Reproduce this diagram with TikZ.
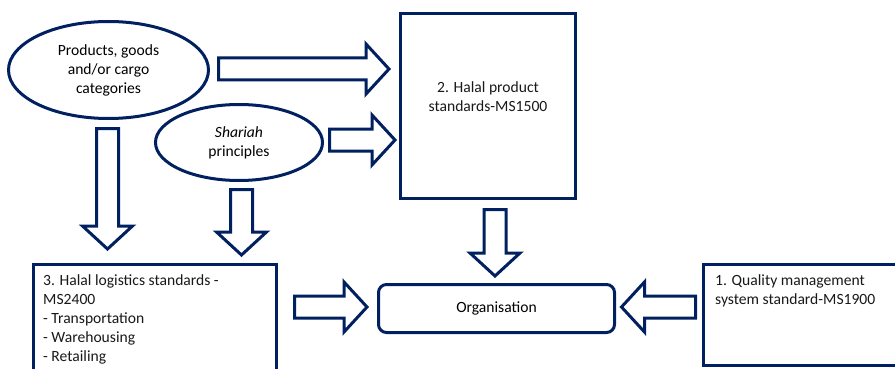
\documentclass[tikz,border=0pt]{standalone}
\usepackage{fontspec}
\setmainfont{Carlito}
\usetikzlibrary{calc,shapes.geometric}
\definecolor{navy}{HTML}{002060}

\newcommand{\shafthw}{11pt}
\newcommand{\headhw}{25pt}
\newcommand{\headlen}{23pt}
\newcommand{\blockarrow}[2]{%
  \coordinate (#1_#2) at ($(#2)!\headlen!(#1)$);
  \draw[hollowarrow] ($(#1)!\shafthw!90:(#2)$) -- ($(#1_#2)!\shafthw!90:(#2)$)
    -- ($(#1_#2)!\headhw!90:(#2)$) -- (#2) -- ($(#1_#2)!\headhw!-90:(#2)$)
    -- ($(#1_#2)!\shafthw!-90:(#2)$) -- ($(#1)!\shafthw!-90:(#2)$) -- cycle;}

\begin{document}
\begin{tikzpicture}[x=1pt,y=-1pt]
\tikzset{
  ovalnode/.style={ellipse,draw=navy,line width=3pt,fill=white,align=center,inner sep=0pt},
  boxnode/.style={rectangle,draw=navy,line width=3pt,fill=white,inner sep=0pt},
  orgnode/.style={boxnode,rounded corners=8pt},
  textnode/.style={inner sep=0pt,text=black!90},
  hollowarrow/.style={draw=navy,line width=3pt,fill=white,line join=miter}
}
\useasboundingbox (0,0) rectangle (895,369);
\fontsize{15.6}{19}\selectfont
\node[ovalnode,minimum width=200,minimum height=97] (n_prod) at (108.5,70) {Products, goods\\and/or cargo\\categories};
\node[ovalnode,minimum width=167,minimum height=76] (n_shariah) at (239,142.5) {\textit{Shariah}\\principles};
\node[boxnode,minimum width=175,minimum height=185] (n_hps) at (488,106) {};
\node[textnode,align=center] (n_hpsText) at (488,96.5) {2. Halal product\\standards-MS1500};
\node[orgnode,minimum width=236,minimum height=48] (n_org) at (496.5,308.5) {Organisation};
\node[boxnode,minimum width=226.5,minimum height=101] (n_qms) at (816.75,315) {};
\node[textnode,align=left,anchor=north west] (n_qmsText) at (715,274) {1. Quality management\\system standard-MS1900};
\node[boxnode,minimum width=243,minimum height=125.5] (n_log) at (155,327.25) {};
\node[textnode,align=left,anchor=north west] (n_logText) at (43,274) {3. Halal logistics standards -\\MS2400\\- Transportation\\- Warehousing\\- Retailing};
\coordinate (c_A0) at (218.5,69);
\coordinate (c_A1) at (389,69);
\coordinate (c_B0) at (329.5,140);
\coordinate (c_B1) at (395,140);
\coordinate (c_C0) at (107.5,128.5);
\coordinate (c_C1) at (107.5,249);
\coordinate (c_D0) at (241.5,189.5);
\coordinate (c_D1) at (241.5,255);
\coordinate (c_E0) at (495,209.5);
\coordinate (c_E1) at (495,276);
\coordinate (c_F0) at (294.5,307);
\coordinate (c_F1) at (367,307);
\coordinate (c_G0) at (695.5,307);
\coordinate (c_G1) at (621.5,307);
\blockarrow{c_A0}{c_A1}
\blockarrow{c_B0}{c_B1}
\blockarrow{c_C0}{c_C1}
\blockarrow{c_D0}{c_D1}
\blockarrow{c_E0}{c_E1}
\blockarrow{c_F0}{c_F1}
\blockarrow{c_G0}{c_G1}
\end{tikzpicture}
\end{document}
